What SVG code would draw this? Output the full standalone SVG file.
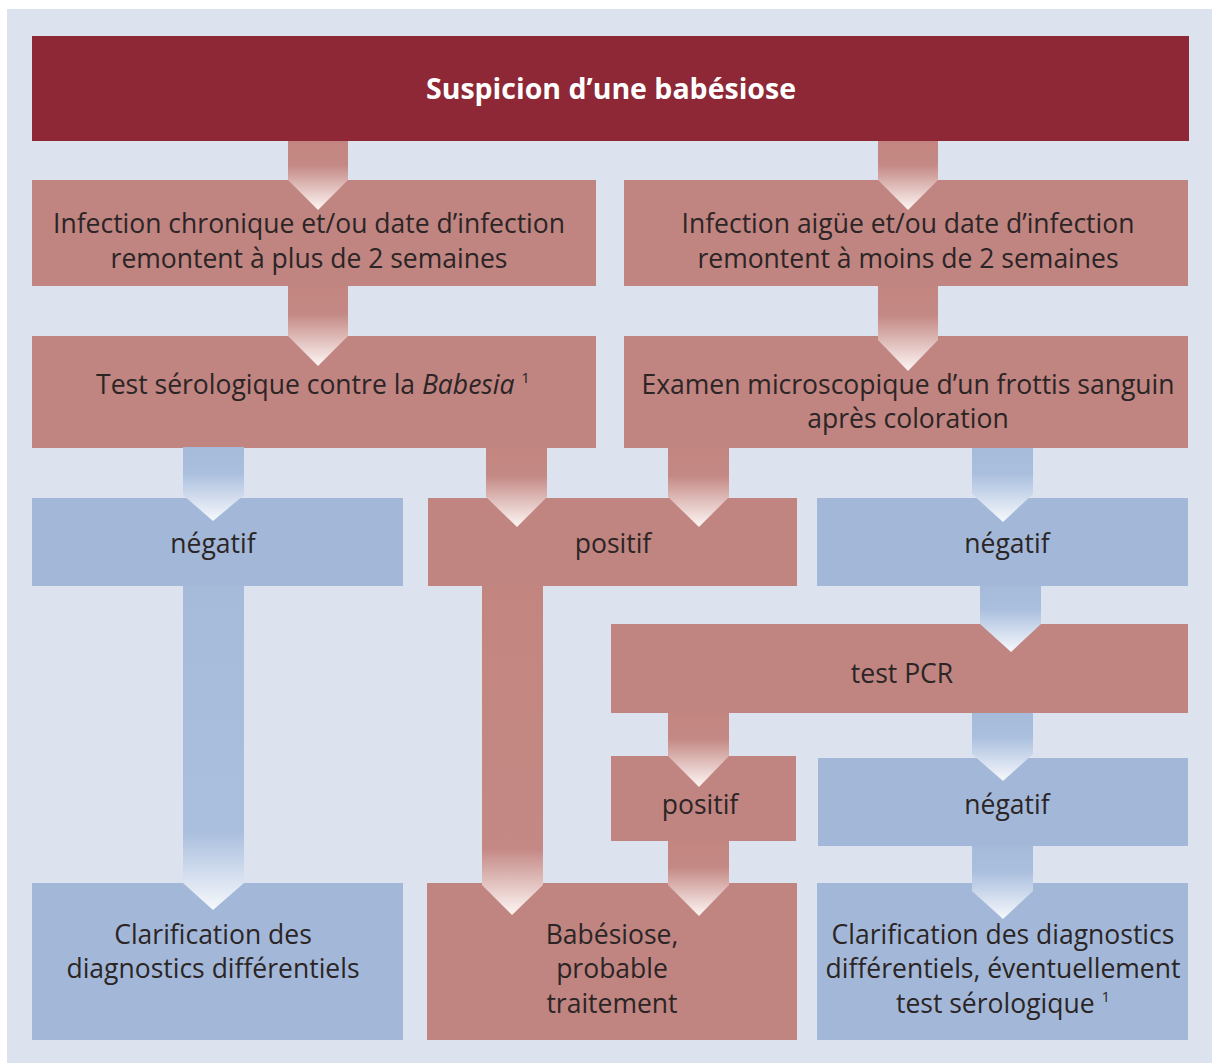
<svg xmlns="http://www.w3.org/2000/svg" width="1212" height="1063" viewBox="0 0 1212 1063">
<defs>
<style>
.bg{fill:#dde3ee}
.title{fill:#8e2836}
.p{fill:#c08481}
.b{fill:#a3b8d8}
text{font-family:"Open Sans","Noto Sans","DejaVu Sans",sans-serif;font-size:26.5px;fill:#2b2526;text-anchor:middle}
.tt{font-size:28.5px;font-weight:bold;fill:#ffffff}
.sup{font-size:15px}
</style>
<linearGradient id="gp" x1="0" y1="0" x2="0" y2="1">
<stop offset="0" stop-color="#c3857f"/>
<stop offset="0.35" stop-color="#c48985"/>
<stop offset="1" stop-color="#fdf6f4"/>
</linearGradient>
<linearGradient id="gb" x1="0" y1="0" x2="0" y2="1">
<stop offset="0" stop-color="#a6bbda"/>
<stop offset="0.35" stop-color="#aabfde"/>
<stop offset="1" stop-color="#f6f8fc"/>
</linearGradient>
<linearGradient id="gpl" x1="0" y1="0" x2="0" y2="1">
<stop offset="0" stop-color="#c3857f"/>
<stop offset="0.8" stop-color="#c48985"/>
<stop offset="1" stop-color="#fdf6f4"/>
</linearGradient>
<linearGradient id="gbl" x1="0" y1="0" x2="0" y2="1">
<stop offset="0" stop-color="#a6bbda"/>
<stop offset="0.76" stop-color="#aabfde"/>
<stop offset="1" stop-color="#f6f8fc"/>
</linearGradient>
</defs>
<rect class="bg" x="7" y="9" width="1205" height="1054"/>

<g id="n-title"><rect class="title" x="32" y="36" width="1157" height="105"/><text class="tt" x="611" y="99">Suspicion d’une babésiose</text></g>
<g id="n-chron"><rect class="p" x="32" y="180" width="564" height="106"/><text x="309" y="233">Infection chronique et/ou date d’infection</text><text x="309" y="268">remontent à plus de 2 semaines</text></g>
<g id="n-aigue"><rect class="p" x="624" y="180" width="564" height="106"/><text x="908" y="233">Infection aigüe et/ou date d’infection</text><text x="908" y="268">remontent à moins de 2 semaines</text></g>
<g id="n-sero"><rect class="p" x="32" y="336" width="564" height="112"/><text x="313" y="394">Test sérologique contre la <tspan font-style="italic">Babesia</tspan> <tspan class="sup" dy="-11">1</tspan></text></g>
<g id="n-micro"><rect class="p" x="624" y="336" width="564" height="112"/><text x="908" y="394">Examen microscopique d’un frottis sanguin</text><text x="908" y="428">après coloration</text></g>
<g id="n-neg1"><rect class="b" x="32" y="498" width="371" height="88"/><text x="213" y="553">négatif</text></g>
<g id="n-pos1"><rect class="p" x="428" y="498" width="369" height="88"/><text x="613" y="553">positif</text></g>
<g id="n-neg2"><rect class="b" x="817" y="498" width="371" height="88"/><text x="1007" y="553">négatif</text></g>
<g id="n-pcr"><rect class="p" x="611" y="624" width="577" height="89"/><text x="902" y="683">test PCR</text></g>
<g id="n-pos2"><rect class="p" x="611" y="756" width="185" height="85"/><text x="700" y="814">positif</text></g>
<g id="n-neg3"><rect class="b" x="818" y="758" width="370" height="88"/><text x="1007" y="814">négatif</text></g>
<g id="n-clar1"><rect class="b" x="32" y="883" width="371" height="157"/><text x="213" y="944">Clarification des</text><text x="213" y="978">diagnostics différentiels</text></g>
<g id="n-babe"><rect class="p" x="427" y="883" width="370" height="157"/><text x="612" y="944">Babésiose,</text><text x="612" y="978">probable</text><text x="612" y="1013">traitement</text></g>
<g id="n-clar2"><rect class="b" x="817" y="883" width="371" height="157"/><text x="1003" y="944">Clarification des diagnostics</text><text x="1003" y="978">différentiels, éventuellement</text><text x="1003" y="1013">test sérologique <tspan class="sup" dy="-11">1</tspan></text></g>

<g id="connectors">
<polygon fill="url(#gp)" points="288,141 348,141 348,180 318,210 288,180"/>
<polygon fill="url(#gp)" points="878,141 938,141 938,180 908,210 878,180"/>
<polygon fill="url(#gp)" points="288,286 348,286 348,336 318,366 288,336"/>
<polygon fill="url(#gp)" points="878,286 938,286 938,340 908,371 878,340"/>
<polygon fill="url(#gb)" points="183,447 244,447 244,495 213,521 183,495"/>
<polygon fill="url(#gp)" points="486,448 547,448 547,497 517,527 486,497"/>
<polygon fill="url(#gp)" points="668,448 729,448 729,497 699,527 668,497"/>
<polygon fill="url(#gb)" points="972,448 1033,448 1033,494 1003,522 972,494"/>
<polygon fill="url(#gbl)" points="183,586 244,586 244,883 213,910 183,883"/>
<polygon fill="url(#gpl)" points="482,586 543,586 543,885 512,915 482,885"/>
<polygon fill="url(#gb)" points="980,586 1041,586 1041,624 1011,652 980,624"/>
<polygon fill="url(#gp)" points="668,713 729,713 729,756 699,787 668,756"/>
<polygon fill="url(#gb)" points="972,713 1033,713 1033,754 1003,781 972,754"/>
<polygon fill="url(#gp)" points="668,841 729,841 729,885 699,916 668,885"/>
<polygon fill="url(#gb)" points="972,846 1033,846 1033,891 1003,919 972,891"/>
</g>
</svg>
